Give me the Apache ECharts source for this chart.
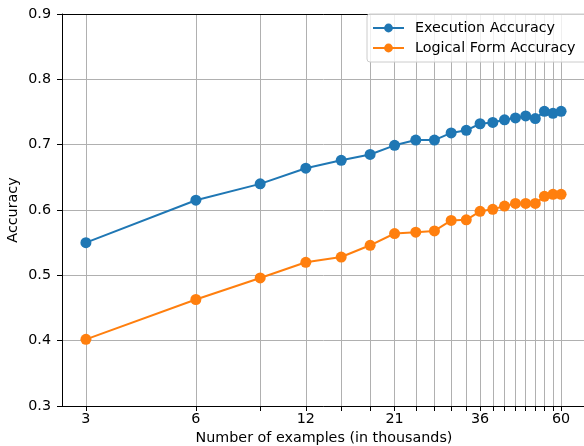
<!DOCTYPE html>
<html>
<head>
<meta charset="utf-8">
<script src="https://cdn.jsdelivr.net/npm/echarts@6/dist/echarts.min.js"></script>
<style>
html,body{margin:0;padding:0;background:#fff;}
#chart{width:584px;height:446px;}
</style>
</head>
<body>
<div id="chart"></div>
<script>
const examples = [3,6,9,12,15,18,21,24,27,30,33,36,39,42,45,48,51,54,57,60];
const executionAccuracy = [0.550,0.615,0.640,0.664,0.676,0.685,0.699,0.707,0.707,0.718,0.722,0.732,0.734,0.738,0.741,0.744,0.740,0.751,0.748,0.751];
const logicalFormAccuracy = [0.402,0.463,0.496,0.520,0.528,0.546,0.564,0.566,0.568,0.584,0.585,0.598,0.601,0.606,0.610,0.610,0.610,0.621,0.624,0.624];
const xTickLabels = [3,6,12,21,36,60];

const font = 'DejaVu Sans';
const FS = 14.3;
const chart = echarts.init(document.getElementById('chart'), null, {renderer:'canvas'});
const pair = (ys) => examples.map((x,i)=>[x, ys[i]]);
const XMIN = 2.58, XMAX = 70.2;

chart.setOption({
  animation:false,
  backgroundColor:'#fff',
  textStyle:{fontFamily:font},
  grid:{left:62, top:14, right:-2, bottom:40, show:false, containLabel:false, outerBoundsMode:'none'},
  legend:{
    left:367, top:14, orient:'vertical',
    itemWidth:31, itemHeight:11, itemGap:6,
    padding:[7,14,7,5],
    backgroundColor:'rgba(255,255,255,0.8)', borderColor:'#cccccc', borderWidth:1, borderRadius:3,
    textStyle:{fontFamily:font, fontSize:FS, color:'#000', padding:[0,0,0,6]},
    data:['Execution Accuracy','Logical Form Accuracy']
  },
  xAxis:[{
    type:'log', logBase:2, min:XMIN, max:XMAX,
    name:'Number of examples (in thousands)', nameLocation:'middle', nameGap:25, nameMoveOverlap:false,
    nameTextStyle:{fontFamily:font, fontSize:FS, color:'#000'},
    axisLine:{show:true, lineStyle:{color:'#000', width:1}},
    axisTick:{show:true, inside:false, length:5, lineStyle:{color:'#000', width:1}, customValues:examples},
    axisLabel:{show:true, margin:6, fontFamily:font, fontSize:FS, color:'#000', customValues:xTickLabels, formatter:(v)=>String(Math.round(v))},
    splitLine:{show:true, lineStyle:{color:'#b0b0b0', width:1}, customValues:examples},
    minorTick:{show:false}, minorSplitLine:{show:false}
  },{
    type:'log', logBase:2, min:XMIN, max:XMAX, position:'top',
    axisLine:{show:true, onZero:false, lineStyle:{color:'#000', width:1}},
    axisTick:{show:false}, axisLabel:{show:false}, splitLine:{show:false}
  }],
  yAxis:{
    type:'value', min:0.3, max:0.9, interval:0.1,
    name:'Accuracy', nameLocation:'middle', nameGap:42, nameMoveOverlap:false,
    nameTextStyle:{fontFamily:font, fontSize:FS, color:'#000'},
    axisLine:{show:true, lineStyle:{color:'#000', width:1}},
    axisTick:{show:true, inside:false, length:5, lineStyle:{color:'#000', width:1}},
    axisLabel:{margin:11, fontFamily:font, fontSize:FS, color:'#000', formatter:(v)=>v.toFixed(1)},
    splitLine:{show:true, lineStyle:{color:'#b0b0b0', width:1}}
  },
  series:[
    {name:'Execution Accuracy', type:'line', data:pair(executionAccuracy), symbol:'circle', symbolSize:11,
     itemStyle:{color:'#1f77b4'}, lineStyle:{color:'#1f77b4', width:2}, z:3},
    {name:'Logical Form Accuracy', type:'line', data:pair(logicalFormAccuracy), symbol:'circle', symbolSize:11,
     itemStyle:{color:'#ff7f0e'}, lineStyle:{color:'#ff7f0e', width:2}, z:3}
  ]
});
</script>
</body>
</html>
